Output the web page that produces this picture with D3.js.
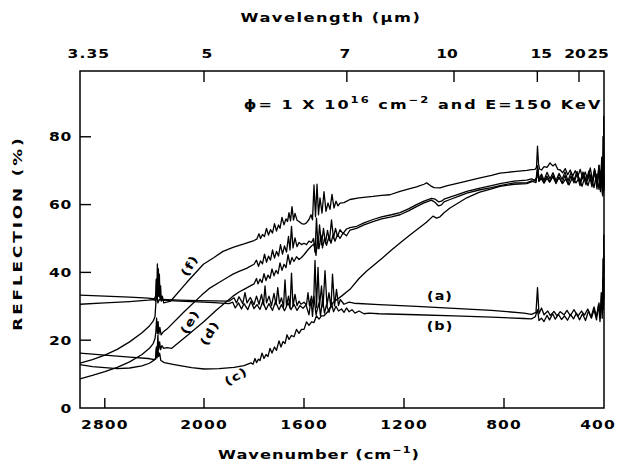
<!DOCTYPE html>
<html><head><meta charset="utf-8">
<script src="https://cdn.jsdelivr.net/npm/d3@7"></script>
<style>
html,body{margin:0;padding:0;background:#fff;}
svg{display:block;}
text{font-family:"DejaVu Sans",sans-serif;font-weight:bold;fill:#000;}
</style></head>
<body>
<svg id="chart" width="623" height="470"></svg>
<script>
// ---------- DATA ----------
const wavenumberTicks = [2800, 2000, 1600, 1200, 800, 400];
const reflectionTicks = [0, 20, 40, 60, 80];
const wavelengthTicks = [5, 7, 10, 15, 20, 25];
const wavelengthStartLabel = "3.35";

const curveA = [[3000,33.3],[2800,33.0],[2600,32.7],[2450,32.4],[2400,32.2],[2390,33],[2384,38],[2378,32],[2372,40],[2366,33],[2360,37],[2352,32],[2340,32],[2200,31.8],[2050,31.7],[1960,31.6],[1900,31.5],[1880,32.5],[1870,31],[1860,32.8],[1845,30.8],[1836,34],[1828,31],[1815,32.6],[1800,30.5],[1790,33],[1780,30.6],[1770,33.5],[1762,30.4],[1756,36],[1750,31],[1740,33],[1730,30.2],[1720,33.8],[1712,30.5],[1705,35.5],[1698,30.8],[1690,32.5],[1682,29.8],[1676,37.8],[1670,30.2],[1662,33],[1656,29.5],[1650,39.8],[1644,30],[1636,33.5],[1628,30.2],[1620,31.5],[1612,30.6],[1600,31.2],[1590,30.4],[1584,34],[1578,30.2],[1570,33],[1562,30],[1556,43.5],[1550,29.6],[1544,41.5],[1538,30],[1530,36],[1524,29.8],[1516,40.5],[1508,30.2],[1500,34],[1492,29.6],[1486,39.5],[1478,30.1],[1470,35],[1462,30.2],[1455,32],[1440,30.6],[1420,31.2],[1400,30.9],[1300,30.5],[1150,30],[1000,29.4],[850,28.8],[720,28],[690,27.6],[672,28.2],[666,35.5],[660,27.8],[650,29.5],[640,27.5],[625,28.6],[615,27.3],[600,28.5],[588,27.2],[575,28.4],[560,27.5],[548,28.8],[535,27.2],[520,29],[505,27],[490,28.6],[478,27.4],[465,29.2],[452,26.8],[440,29.8],[430,27],[420,31],[414,26.5],[410,33],[406,28],[404,44],[402,30],[401,51],[400,40]];

const curveB = [[3000,30.6],[2800,31.0],[2600,31.4],[2450,31.8],[2400,32],[2390,31.5],[2380,34],[2372,31],[2360,32],[2340,31.8],[2200,31.5],[2050,31.3],[1960,31.1],[1900,30.8],[1885,31.2],[1875,29.5],[1862,31],[1850,29.2],[1840,30.8],[1825,29],[1812,31.5],[1800,29.3],[1788,30.5],[1776,29.1],[1765,31.5],[1752,29],[1740,30.8],[1726,28.8],[1714,31.4],[1700,29],[1690,30.5],[1678,28.7],[1664,31],[1652,29],[1640,30.6],[1628,28.8],[1616,30.2],[1604,29.4],[1592,30.4],[1580,27.5],[1572,32],[1566,27],[1560,33],[1552,27.5],[1540,31],[1534,27.2],[1526,32],[1518,28],[1510,30.5],[1500,28.2],[1490,31],[1482,28.4],[1472,30],[1462,28.6],[1450,29.2],[1440,28.2],[1430,29.5],[1420,28.4],[1408,29],[1396,28],[1380,28.6],[1360,27.8],[1340,28],[1300,27.8],[1150,27.5],[1000,27.2],[850,26.8],[720,26.4],[690,26.3],[675,26.9],[666,29],[660,25.8],[650,26.5],[640,25.5],[628,27.3],[618,26],[605,27.8],[595,26.2],[582,27.6],[570,26.1],[558,27.2],[546,25.9],[534,27.6],[522,26.3],[510,28],[498,26],[486,27.8],[474,25.8],[462,28.6],[450,26.5],[440,29],[430,26],[422,30.5],[416,25.5],[411,34],[407,26.5],[405,38],[403,29],[401.5,45],[400,32]];

const curveC = [[3000,16.2],[2800,15.6],[2600,15.0],[2450,14.6],[2400,14.3],[2390,14.4],[2384,17.5],[2378,14.8],[2372,18],[2366,15.2],[2358,16.2],[2348,14],[2320,13.4],[2250,12.9],[2194,12.5],[2100,11.9],[2000,11.5],[1940,11.6],[1880,12.0],[1840,12.5],[1812,13.3],[1804,12.9],[1796,14.6],[1790,13.4],[1782,14.4],[1776,14],[1768,16.2],[1760,14.6],[1752,15.8],[1744,15.2],[1736,17.6],[1728,16.2],[1718,18],[1710,17],[1700,19.8],[1692,18],[1684,19.6],[1676,19],[1668,21.6],[1660,20.2],[1650,21.4],[1640,21],[1630,23.2],[1620,22],[1610,23.2],[1600,23.2],[1590,25.4],[1580,24.4],[1570,25.4],[1560,25.2],[1550,27.2],[1540,26.2],[1530,27.2],[1520,27.2],[1505,28.4],[1484,31.1],[1450,33],[1416,35],[1380,38.2],[1349,40.4],[1320,42.2],[1284,44.4],[1250,46.6],[1216,48.7],[1180,50.8],[1149,52.6],[1110,54.8],[1084,56.6],[1070,56],[1056,56.4],[1040,57.6],[1016,59],[980,60.6],[949,62],[900,63.6],[850,64.6],[816,65.4],[760,66],[709,66.2],[680,67],[668,68],[664,70.5],[660,67],[650,67.6],[640,66.3],[628,67.8],[618,66.6],[605,68.2],[592,66.4],[580,68],[566,66.2],[554,67.5],[540,65.8],[526,68],[512,66.4],[500,67.8],[488,65.4],[476,68.2],[464,65.6],[452,68.8],[440,65],[430,69],[420,64.5],[412,70],[406,63],[403,72],[400,66]];

const curveD = [[3000,12.8],[2900,12.2],[2800,11.9],[2700,11.6],[2600,11.8],[2500,12.4],[2440,13.2],[2400,14.2],[2390,14.8],[2384,18],[2378,16],[2372,21.5],[2366,17.2],[2358,19.5],[2350,17.2],[2340,18.4],[2325,17.6],[2300,17.8],[2260,17.6],[2130,21.5],[2000,25.5],[1950,28.9],[1896,32.2],[1884,33],[1860,34.2],[1840,35],[1820,35.8],[1800,36.6],[1790,38.2],[1784,36.6],[1776,38],[1768,37],[1760,39.6],[1752,37.6],[1744,39.2],[1736,38.2],[1728,41],[1720,39],[1712,40.6],[1704,39.6],[1696,42.8],[1688,40.6],[1680,42.4],[1672,41.4],[1664,45.2],[1656,42.4],[1648,44.4],[1640,43.2],[1630,44.6],[1620,43.8],[1610,44.4],[1600,45.2],[1585,46.6],[1570,47.8],[1560,48.4],[1552,45],[1546,50.5],[1540,47],[1532,51],[1526,47.2],[1518,50],[1510,48],[1500,50.6],[1492,48.6],[1484,51],[1476,49.2],[1466,51.2],[1456,50],[1444,51.6],[1430,50.8],[1416,52.5],[1390,53],[1360,54],[1324,55],[1290,55.8],[1250,56.4],[1216,57],[1180,58.2],[1150,59.4],[1120,60.5],[1090,61.3],[1075,60.6],[1062,59.6],[1050,59.9],[1040,60.8],[1016,61.5],[980,62.5],[949,63.4],[900,64.3],[850,65],[816,65.6],[760,66.4],[709,66.4],[690,67],[672,66.5],[666,70],[660,66.8],[650,68.2],[640,66.6],[628,68.4],[616,66.8],[604,68.6],[592,66.2],[580,68.2],[568,66.4],[556,68.6],[544,66],[532,68.4],[520,66.4],[508,69],[496,65.6],[484,68.8],[472,65.8],[460,69.2],[448,65.2],[438,70],[428,64.6],[420,70.6],[414,63.8],[409,72],[405,62.5],[402,74],[400,64]];

const curveE = [[3000,8.6],[2900,9.6],[2800,10.7],[2700,12.0],[2600,13.6],[2500,15.8],[2440,17.6],[2410,19],[2395,20.5],[2388,22.5],[2382,26.5],[2376,22],[2370,25.5],[2364,21.8],[2356,23.8],[2346,21.6],[2330,22.4],[2301,23.2],[2160,28.4],[2019,33.3],[1980,35.2],[1940,37.0],[1900,38.8],[1884,39.5],[1860,40.3],[1830,41.2],[1800,42.4],[1790,43.6],[1782,41.8],[1774,43.4],[1766,42.5],[1758,45.4],[1750,43],[1742,44.8],[1734,43.6],[1726,46.6],[1718,44.2],[1710,46.2],[1702,44.8],[1694,48.2],[1686,45.4],[1678,47.8],[1670,46],[1662,50.6],[1656,46.6],[1650,53.6],[1644,47.2],[1636,50.2],[1628,47.6],[1620,48.8],[1610,48.2],[1600,48.6],[1590,48.2],[1580,49.2],[1570,48.8],[1562,50],[1556,46],[1550,56],[1544,47],[1538,54],[1530,48.2],[1522,53],[1514,48.6],[1506,52.4],[1498,49.4],[1490,55.5],[1482,50],[1474,53],[1466,50.6],[1456,52.6],[1444,51.4],[1430,52.8],[1416,53.2],[1389,53.6],[1360,54.6],[1324,55.6],[1290,56.4],[1250,57],[1216,57.6],[1180,58.8],[1150,60],[1120,61],[1090,61.8],[1075,61.6],[1062,60.8],[1050,61],[1040,61.6],[1016,62.2],[980,63.1],[949,63.9],[900,64.8],[850,65.6],[816,66.2],[760,66.9],[709,67.2],[690,67.6],[672,67],[666,71.5],[660,67.4],[650,69],[640,67.2],[628,69.5],[616,67.6],[604,69.4],[592,67],[580,69.2],[568,67.4],[556,69.6],[544,67],[532,69.4],[520,67.2],[508,69.8],[496,66.6],[484,69.6],[472,66.8],[460,70],[448,66.2],[438,70.6],[428,65.6],[420,71.5],[414,64.5],[409,73],[405,63.5],[402,76],[400,65]];

const curveF = [[3000,13.2],[2900,14.3],[2800,15.6],[2700,17.3],[2600,19.5],[2500,22.2],[2440,24.2],[2410,25.6],[2395,27],[2388,31],[2384,38],[2380,34],[2376,42.5],[2372,35],[2368,41],[2364,33],[2360,39.5],[2355,32.5],[2350,36],[2344,31.5],[2336,33],[2325,31],[2300,31.2],[2270,31.5],[2140,37],[2005,42.4],[1960,44.4],[1924,46.2],[1884,47.4],[1840,48.4],[1800,49.4],[1789,49.8],[1780,51.4],[1774,50],[1766,51.2],[1758,50.6],[1750,53],[1742,51],[1734,52.6],[1726,51.6],[1718,54.4],[1710,52.2],[1702,54],[1696,53],[1688,56.2],[1680,54],[1672,55.8],[1666,55],[1660,57.6],[1654,55.2],[1648,59.4],[1642,55.4],[1636,57.4],[1628,55.4],[1620,55],[1610,54.4],[1600,54.2],[1590,54.6],[1580,55.6],[1572,57],[1566,55.5],[1560,65.8],[1554,56.4],[1548,66],[1542,57],[1536,62],[1528,57.5],[1520,63.8],[1512,58],[1504,60.5],[1496,58.6],[1488,63],[1480,59],[1472,61],[1464,59.6],[1456,60.4],[1440,60.6],[1429,61],[1416,61.5],[1380,62],[1324,62.4],[1290,62.7],[1256,62.9],[1216,63.9],[1180,64.6],[1150,65.2],[1120,66],[1109,66.4],[1095,65.6],[1080,65],[1056,64.9],[1030,65.5],[1000,66],[949,66.9],[900,67.8],[850,68.6],[816,69.3],[760,69.7],[709,70.1],[690,70.3],[676,70.4],[670,71],[666,77.2],[662,72],[658,70.5],[650,70.2],[640,71.2],[628,71],[616,72.3],[605,71.4],[595,72],[585,70.4],[575,70.2],[565,69.4],[555,70.6],[545,68.8],[535,70.2],[525,68.4],[515,70],[505,68.2],[495,70.4],[485,67.6],[475,69.6],[465,67.2],[455,70.8],[445,66.8],[436,70],[428,65.8],[420,71.6],[414,64.8],[409,74],[406,63],[404,80],[402,66],[401,86],[400,70]];

const curveLabels = ["(a)", "(b)", "(c)", "(d)", "(e)", "(f)"];
const curveLabelAt = [[1056, 32.9], [1056, 24.1], [1864, 9.5], [1964, 22.7], [2086, 26.0], [2089, 42.6]];

// ---------- LAYOUT ----------
const svg = d3.select("#chart");
const L = 80, R = 604, T = 71, B = 408;
const x = d3.scaleLinear().domain([3000, 2000, 400]).range([L, 204, R]);
const y = d3.scaleLinear().domain([0, 99.4]).range([B, T]);

function label(g, px, py, s, anchor, size, sx, rot, ls) {
  const t = g.append("text")
    .attr("transform", `translate(${px},${py}) rotate(${rot||0}) scale(${sx},1)`)
    .attr("text-anchor", anchor)
    .style("font-size", size + "px")
    .style("letter-spacing", (ls || 0) + "px");
  return t.text(s);
}

const g = svg.append("g");

// frame
g.append("rect").attr("x", L).attr("y", T).attr("width", R - L).attr("height", B - T)
  .attr("fill", "none").attr("stroke", "#000").attr("stroke-width", 1.5);

// bottom ticks (inward)
const bottomTicks = wavenumberTicks.filter(v => v !== 400);
g.selectAll(".bt").data(bottomTicks).enter().append("line")
  .attr("x1", d => x(d)).attr("x2", d => x(d)).attr("y1", B).attr("y2", B - 10)
  .attr("stroke", "#000").attr("stroke-width", 1.4);
wavenumberTicks.forEach(v => label(g, x(v) + (v === 400 ? -6 : 0), 429, String(v), "middle", 11.5, 1.35, 0, 0.8));

// left ticks
g.selectAll(".lt").data(reflectionTicks.filter(v => v > 0)).enter().append("line")
  .attr("x1", L).attr("x2", L + 11).attr("y1", d => y(d)).attr("y2", d => y(d))
  .attr("stroke", "#000").attr("stroke-width", 1.4);
reflectionTicks.forEach(v => label(g, 72, y(v) + 4.5, String(v), "end", 11.5, 1.35, 0, 0.5));

// top ticks (wavelength)
g.selectAll(".tt").data(wavelengthTicks.filter(v => v !== 25)).enter().append("line")
  .attr("x1", d => x(1e4 / d)).attr("x2", d => x(1e4 / d)).attr("y1", T).attr("y2", T + 11)
  .attr("stroke", "#000").attr("stroke-width", 1.4);
const topOffsets = {5: 3, 7: -2, 10: -7, 15: 4, 20: -4, 25: -6};
wavelengthTicks.forEach(v => label(g, x(1e4 / v) + topOffsets[v], 58, String(v), "middle", 11.5, 1.35));
label(g, x(1e4 / 3.35) + 7, 58, wavelengthStartLabel, "middle", 11.5, 1.35, 0, 0.8);

// axis titles
label(g, 331, 22, "Wavelength (μm)", "middle", 13, 1.25, 0, 1.2);
const bt = label(g, 319, 459, "", "middle", 13, 1.25, 0, 0.8);
bt.append("tspan").text("Wavenumber (cm");
bt.append("tspan").attr("dy", -6).style("font-size", "9px").text("−1");
bt.append("tspan").attr("dy", 6).text(")");
label(g, 22, 233, "REFLECTION (%)", "middle", 13, 1.3, -90, 2.2);

// annotation
const an = label(g, 423, 109, "", "middle", 12.5, 1.28, 0, 1.6);
an.append("tspan").text("ϕ= 1 X 10");
an.append("tspan").attr("dy", -6).style("font-size", "9px").text("16");
an.append("tspan").attr("dy", 6).text(" cm");
an.append("tspan").attr("dy", -6).style("font-size", "9px").text("−2");
an.append("tspan").attr("dy", 6).text(" and E=150 KeV");

// curves
const line = d3.line().x(d => x(d[0])).y(d => y(d[1]));
const curves = [curveA, curveB, curveC, curveD, curveE, curveF];
g.selectAll(".curve").data(curves).enter().append("path")
  .attr("d", line).attr("fill", "none").attr("stroke", "#000")
  .attr("stroke-width", 1.3).attr("stroke-linejoin", "round");

// curve labels
const rots = [0, 0, -30, -60, -60, -60];
curveLabels.forEach((s, i) => label(g, x(curveLabelAt[i][0]), y(curveLabelAt[i][1]) + 4, s, "middle", 11.5, 1.25, rots[i], 0.8));
</script>
</body></html>
